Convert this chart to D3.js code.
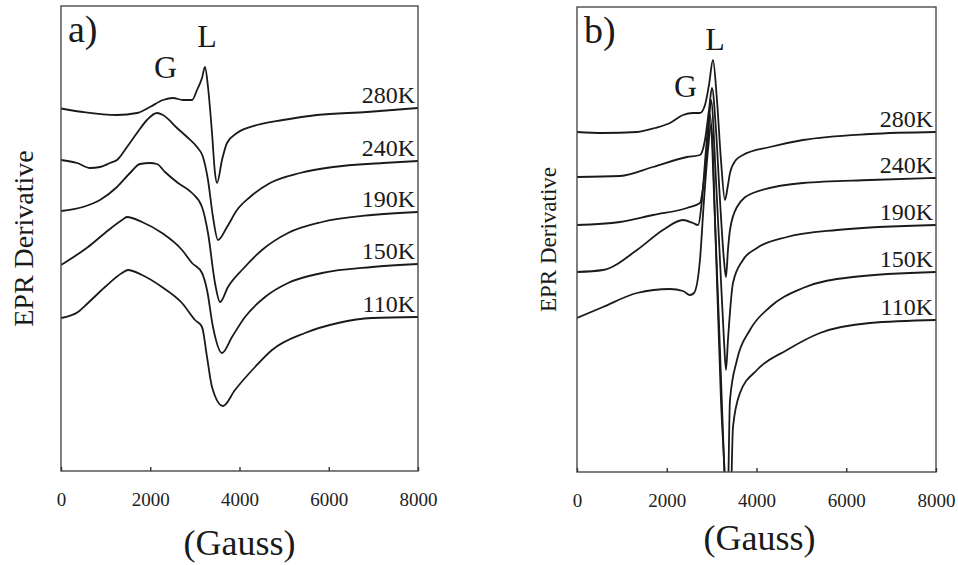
<!DOCTYPE html>
<html>
<head>
<meta charset="utf-8">
<script src="https://cdn.jsdelivr.net/npm/d3@7"></script>
<style>
body{margin:0;background:#fff}
text{font-family:"Liberation Serif","Times New Roman",serif;fill:#1a1a1a}
</style>
</head>
<body>
<svg id="fig" width="958" height="565"></svg>
<script>
(function(){

// field (Gauss), derivative signal (arb. units, stacked)
var tempLabels = ["280K","240K","190K","150K","110K"]
var xTicks = [0,2000,4000,6000,8000]

var a280 = [[0,72.5],[493,71.8],[1255,71.2],[1703,71.6],[1994,72.8],[2286,74.2],[2510,74.6],[2734,74.2],[2936,74.2],
	[3048,76.2],[3160,78.6],[3227,80.8],[3294,76.8],[3384,67.6],[3451,59.6],[3496,57.6],[3608,62.2],[3720,65.6],
	[3944,67.6],[4392,69.2],[4975,70.2],[5737,71.2],[6857,71.8],[8000,72.6]]
var a240 = [[0,62.2],[359,61.6],[650,60.6],[874,60.8],[1098,61.6],[1255,62.2],[1479,64.8],[1703,67.6],[1927,70.2],
	[2151,71.6],[2286,71.2],[2600,68.6],[2824,66.8],[3048,64.8],[3182,62.8],[3294,58.2],[3406,50.8],[3518,46.2],
	[3720,48.8],[3944,52.2],[4236,54.8],[4684,57.6],[5356,59.6],[6096,60.8],[7216,61.6],[8000,62]]
var a190 = [[0,52],[493,52.8],[874,54.2],[1255,56.8],[1546,59.6],[1770,61.4],[1994,61.6],[2151,61.4],[2331,59.8],
	[2622,57.6],[2936,55.6],[3160,52.8],[3294,47.6],[3451,37.6],[3563,33.8],[3742,36.8],[4056,40.2],[4504,44.2],
	[5087,47.6],[5849,49.8],[6969,51.2],[8000,51.8]]
var a150 = [[0,41.2],[605,44.8],[986,47.6],[1367,50.2],[1479,50.8],[1815,49.8],[2263,47.6],[2712,44.2],[2936,41.6],
	[3160,39.6],[3272,36.2],[3406,28.8],[3608,23.6],[3832,26.8],[4123,30.8],[4572,34.8],[5087,37.6],[5849,39.6],
	[6969,40.8],[8000,41.4]]
var a110 = [[0,30.6],[381,31.8],[605,33.6],[986,36.8],[1367,39.6],[1501,40.2],[1815,39.2],[2263,36.8],[2712,33.6],
	[3003,30.2],[3160,28.8],[3272,22.8],[3384,16.8],[3630,13],[3899,16.2],[4348,20.8],[4729,24.2],[5468,27.6],
	[6208,29.6],[6969,30.6],[8000,30.8]]

var b280 = [[0,68],[579,67.8],[1337,68],[1738,68.8],[2072,69.8],[2362,71.4],[2584,71.8],[2740,71.8],[2852,73.4],
	[2941,77.4],[3030,82.4],[3119,74.4],[3208,62.4],[3297,54.4],[3364,57.4],[3409,59.8],[3542,62.4],[3698,63.4],
	[4300,65],[5035,66.4],[6528,67.6],[8000,68]]
var b240 = [[0,59],[958,59.2],[1693,61],[2451,63],[2740,63.4],[2852,66.4],[2941,72.4],[3008,76.8],[3097,68.4],
	[3186,54.4],[3275,42.4],[3320,39],[3364,44.4],[3409,48.4],[3565,53],[3921,55.8],[5035,57.8],[6528,58.4],[8000,58.8]]
var b190 = [[0,49.4],[958,50],[1693,51.4],[2451,52.8],[2740,53.8],[2830,58.4],[2919,66.4],[2986,74.4],[3097,58.4],
	[3186,42.4],[3275,26.4],[3320,20.4],[3364,26.4],[3476,37.8],[3698,42.4],[4010,44.8],[4679,47],[5793,48.4],[8000,49.4]]
var b150 = [[0,40],[579,40.4],[1337,44.4],[1916,48.4],[2362,50.4],[2584,49.8],[2696,49.4],[2785,54.4],[2874,64.4],
	[2963,71.4],[3075,50.4],[3186,24.4],[3275,2.4],[3342,-11.6],[3364,-5.6],[3409,14.4],[3565,22.4],[3854,28.4],
	[4300,33],[5035,36.8],[6149,39],[8000,40]]
var b110 = [[0,30.8],[579,33],[1337,35.8],[2072,36.6],[2362,36.2],[2518,35.4],[2607,35.8],[2740,42.4],[2830,54.4],
	[2919,64.4],[2986,69.4],[3097,44.4],[3208,14.4],[3297,-1.6],[3364,-17.6],[3431,-5.6],[3476,9],[3632,15.8],
	[4010,20.4],[4679,24.4],[5414,27.8],[6528,29.8],[8000,30.4]]

// peak annotations [gauss, value]
var annA = [{t:"G",p:[2342,78.6]},{t:"L",p:[3272,84.8]}]
var annB = [{t:"G",p:[2417,75]},{t:"L",p:[3075,84.4]}]

var panels = [
	{tag:"a)", l:61, r:418, t:6, b:471, curves:[a280,a240,a190,a150,a110], ann:annA, ylab:{x:33,size:28}},
	{tag:"b)", l:577, r:936, t:7, b:472, curves:[b280,b240,b190,b150,b110], ann:annB, ylab:{x:556,size:23}}
]

var svg = d3.select("#fig")

panels.forEach(function(p,pi){

	var x = d3.scaleLinear().domain([0,8000]).range([p.l,p.r])
	var y = d3.scaleLinear().domain([0,93]).range([p.b,p.t])

	var clipId = "clip"+pi
	svg.append("clipPath").attr("id",clipId)
		.append("rect").attr("x",p.l).attr("y",p.t)
		.attr("width",p.r-p.l).attr("height",p.b-p.t)

	var line = d3.line()
		.x(function(d){return x(d[0])})
		.y(function(d){return y(d[1])})
		.curve(d3.curveMonotoneX)

	svg.append("g").attr("clip-path","url(#"+clipId+")")
		.selectAll("path").data(p.curves).enter()
		.append("path")
		.attr("d",line)
		.style("fill","none")
		.style("stroke","#1a1a1a")
		.style("stroke-width",1.8)
		.style("stroke-linejoin","round")

	// temperature labels sit just above each curve's right end
	svg.selectAll(".tl"+pi).data(p.curves).enter()
		.append("text").attr("class","tl"+pi)
		.text(function(d,i){return tempLabels[i]})
		.attr("x",p.r-3)
		.attr("y",function(d){return y(d[d.length-1][1])-5})
		.style("text-anchor","end")
		.style("font-size","24px")

	svg.append("rect")
		.attr("x",p.l).attr("y",p.t)
		.attr("width",p.r-p.l).attr("height",p.b-p.t)
		.style("fill","none")
		.style("stroke","#4a4a4a")
		.style("stroke-width",1.4)

	var ax = svg.append("g")
		.attr("transform","translate(0,"+p.b+")")
		.call(d3.axisBottom(x).tickValues(xTicks).tickSize(-4).tickPadding(22).tickFormat(d3.format("d")))
	ax.select(".domain").remove()
	ax.selectAll("line").style("stroke","#333").style("stroke-width",1.4)
	ax.selectAll("text")
		.style("font-family","\"Liberation Serif\",\"Times New Roman\",serif")
		.style("font-size","19px")
		.style("fill","#222")

	svg.append("text").text(p.tag)
		.attr("x",p.l+7).attr("y",p.t+36)
		.style("font-size","38px")

	svg.selectAll(".ann"+pi).data(p.ann).enter()
		.append("text").attr("class","ann"+pi)
		.text(function(d){return d.t})
		.attr("x",function(d){return x(d.p[0])})
		.attr("y",function(d){return y(d.p[1])})
		.style("text-anchor","middle")
		.style("font-size","32px")

	svg.append("text").text("EPR Derivative")
		.attr("transform","translate("+p.ylab.x+","+((p.t+p.b)/2)+") rotate(-90)")
		.style("text-anchor","middle")
		.style("font-size",p.ylab.size+"px")

	svg.append("text").text("(Gauss)")
		.attr("x",(p.l+p.r)/2+(pi==0?0:3))
		.attr("y",pi==0?555:550)
		.style("text-anchor","middle")
		.style("font-size","36px")
})

})()
</script>
</body>
</html>
